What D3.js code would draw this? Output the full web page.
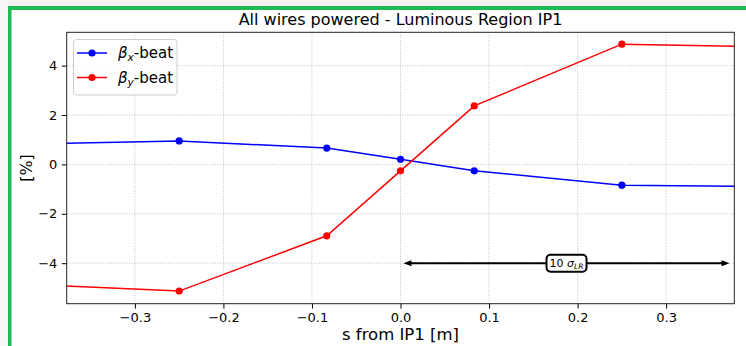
<!DOCTYPE html>
<html>
<head>
<meta charset="utf-8">
<script src="https://cdn.jsdelivr.net/npm/d3@7"></script>
<style>
  html, body { margin: 0; padding: 0; background: #ffffff; }
  svg { display: block; font-family: "DejaVu Sans", sans-serif; }
</style>
</head>
<body>
<svg id="chart" width="746" height="346"></svg>
<script>
// ---- data ----
const sPositions = [-0.5, -0.25, -0.0833, 0.0, 0.0833, 0.25, 0.5];
const betaXBeat = [0.77, 0.95, 0.66, 0.21, -0.26, -0.84, -0.92];
const betaYBeat = [-4.72, -5.13, -2.89, -0.26, 2.37, 4.87, 4.71];
const seriesNames = ["x", "y"];
const xTicks = [-0.3, -0.2, -0.1, 0.0, 0.1, 0.2, 0.3];
const yTicks = [-4, -2, 0, 2, 4];
const xDomain = [-0.377, 0.377];
const yDomain = [-5.64, 5.35];
const arrowSpan = [0.0, 0.375];
const arrowLevel = -4;

const svg = d3.select("#chart");
const W = 746, H = 346;
const plot = { left: 66.7, top: 32.3, right: 734.3, bottom: 303.7 };

// frame decorations
svg.append("rect").attr("x", 0).attr("y", 0).attr("width", W).attr("height", 6).attr("fill", "#f3f3f3");
svg.append("rect").attr("x", 0).attr("y", 0).attr("width", 8).attr("height", H).attr("fill", "#f6f6f6");
svg.append("rect").attr("x", 8).attr("y", 6).attr("width", W - 8).attr("height", 4).attr("fill", "#1db954");
svg.append("rect").attr("x", 8).attr("y", 6).attr("width", 3.5).attr("height", H - 6).attr("fill", "#1db954");

const x = d3.scaleLinear().domain(xDomain).range([plot.left, plot.right]);
const y = d3.scaleLinear().domain(yDomain).range([plot.bottom, plot.top]);

svg.append("defs").append("clipPath").attr("id", "clip")
  .append("rect").attr("x", plot.left).attr("y", plot.top)
  .attr("width", plot.right - plot.left).attr("height", plot.bottom - plot.top);

// grid
const grid = svg.append("g");
xTicks.forEach(t => grid.append("line")
  .attr("x1", x(t)).attr("x2", x(t)).attr("y1", plot.top).attr("y2", plot.bottom)
  .attr("stroke", "#b0b0b0").attr("stroke-width", 0.8).attr("stroke-dasharray", "1,1.6"));
yTicks.forEach(t => grid.append("line")
  .attr("x1", plot.left).attr("x2", plot.right).attr("y1", y(t)).attr("y2", y(t))
  .attr("stroke", "#b0b0b0").attr("stroke-width", 0.8).attr("stroke-dasharray", "1,1.6"));

const fmtX = d => d3.format(".1f")(d).replace("-", "\u2212");
const fmtY = d => String(d).replace("-", "\u2212");

const xAxis = svg.append("g").attr("transform", `translate(0,${plot.bottom})`)
  .call(d3.axisBottom(x).tickValues(xTicks).tickFormat(fmtX).tickSize(4.9).tickPadding(4));
const yAxis = svg.append("g").attr("transform", `translate(${plot.left},0)`)
  .call(d3.axisLeft(y).tickValues(yTicks).tickFormat(fmtY).tickSize(4.9).tickPadding(4.5));
[xAxis, yAxis].forEach(a => {
  a.select(".domain").remove();
  a.selectAll("text").attr("font-size", 13).attr("fill", "#000").attr("font-family", "DejaVu Sans");
  a.selectAll("line").attr("stroke", "#000").attr("stroke-width", 1);
});

// series
const colors = { x: "#0000ff", y: "#ff0000" };
const seriesData = { x: betaXBeat, y: betaYBeat };
const lineGen = d3.line().x(d => x(d[0])).y(d => y(d[1]));
const plotG = svg.append("g").attr("clip-path", "url(#clip)");
seriesNames.forEach(k => {
  const pts = sPositions.map((s, i) => [s, seriesData[k][i]]);
  plotG.append("path").datum(pts).attr("d", lineGen)
    .attr("fill", "none").attr("stroke", colors[k]).attr("stroke-width", 1.5);
  plotG.selectAll(null).data(pts.filter(p => p[0] >= xDomain[0] && p[0] <= xDomain[1]))
    .enter().append("circle")
    .attr("cx", d => x(d[0])).attr("cy", d => y(d[1])).attr("r", 3.6).attr("fill", colors[k]);
});

// annotation arrow
const ay = y(arrowLevel);
const ax0 = x(arrowSpan[0]) + 3, ax1 = x(arrowSpan[1]) - 3;
const ann = svg.append("g");
ann.append("line").attr("x1", ax0 + 4).attr("x2", ax1 - 4).attr("y1", ay).attr("y2", ay)
  .attr("stroke", "#000").attr("stroke-width", 2);
ann.append("path").attr("d", `M${ax0},${ay} L${ax0 + 8},${ay - 3} L${ax0 + 8},${ay + 3} Z`).attr("fill", "#000");
ann.append("path").attr("d", `M${ax1},${ay} L${ax1 - 8},${ay - 3} L${ax1 - 8},${ay + 3} Z`).attr("fill", "#000");
const cx = (x(arrowSpan[0]) + x(arrowSpan[1])) / 2;
ann.append("rect").attr("x", cx - 20).attr("y", ay - 8.5).attr("width", 40).attr("height", 17)
  .attr("rx", 4).attr("fill", "#fff").attr("stroke", "#000").attr("stroke-width", 2);
const at = ann.append("text").attr("x", cx).attr("y", ay + 4).attr("text-anchor", "middle")
  .attr("font-size", 11);
at.append("tspan").text("10 ");
at.append("tspan").attr("font-style", "italic").text("σ");
at.append("tspan").attr("font-style", "italic").attr("font-size", 7.5).attr("dy", 2).text("LR");

// spines
svg.append("rect").attr("x", plot.left).attr("y", plot.top)
  .attr("width", plot.right - plot.left).attr("height", plot.bottom - plot.top)
  .attr("fill", "none").attr("stroke", "#222").attr("stroke-width", 1);

// title & labels
svg.append("text").attr("x", (plot.left + plot.right) / 2).attr("y", 25)
  .attr("text-anchor", "middle").attr("font-size", 16).text("All wires powered - Luminous Region IP1");
svg.append("text").attr("x", (plot.left + plot.right) / 2).attr("y", 340)
  .attr("text-anchor", "middle").attr("font-size", 16.5).text("s from IP1 [m]");
svg.append("text").attr("transform", `translate(32,${(plot.top + plot.bottom) / 2}) rotate(-90)`)
  .attr("text-anchor", "middle").attr("font-size", 16).text("[%]");

// legend
const lg = svg.append("g");
lg.append("rect").attr("x", 73.5).attr("y", 39.5).attr("width", 103.5).attr("height", 55.5)
  .attr("rx", 3).attr("fill", "#fff").attr("fill-opacity", 0.8).attr("stroke", "#cccccc").attr("stroke-width", 1);
seriesNames.forEach((k, i) => {
  const ly = 53 + i * 24.5;
  lg.append("line").attr("x1", 77).attr("x2", 107).attr("y1", ly).attr("y2", ly)
    .attr("stroke", colors[k]).attr("stroke-width", 1.5);
  lg.append("circle").attr("cx", 92).attr("cy", ly).attr("r", 3.6).attr("fill", colors[k]);
  const t = lg.append("text").attr("x", 118).attr("y", ly + 5).attr("font-size", 15);
  t.append("tspan").attr("font-style", "italic").text("β");
  t.append("tspan").attr("font-style", "italic").attr("font-size", 10.5).attr("dy", 3).text(k);
  t.append("tspan").attr("dy", -3).text("-beat");
});
</script>
</body>
</html>
